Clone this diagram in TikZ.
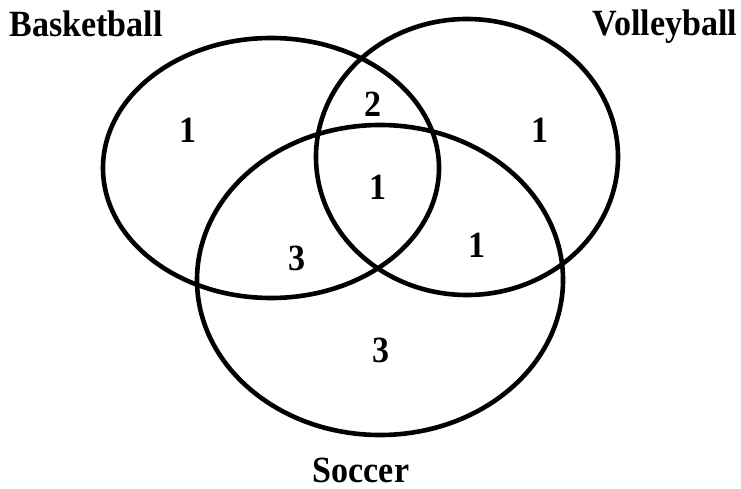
\documentclass[tikz,border=0pt]{standalone}
\usepackage{fontspec}
\setmainfont{Liberation Serif}
\newfontfamily\vennfont[FakeStretch=0.92]{Liberation Serif}
\tikzset{
  setline/.style={draw=black, line width=4.6pt},
  setlabel/.style={font=\vennfont\fontsize{37}{42}\selectfont\bfseries},
  count/.style={font=\vennfont\fontsize{37}{42}\selectfont\bfseries}
}
\begin{document}
\begin{tikzpicture}[x=1pt, y=1pt]
\useasboundingbox (0,0) rectangle (741,-489);

% three sets
\draw [setline] (271,-168) ellipse [x radius=168, y radius=130];
\draw [setline] (467,-157) ellipse [x radius=151, y radius=138];
\draw [setline] (380,-280) ellipse [x radius=183, y radius=155];

% set names
\node (basket) [setlabel] at (86,-24) {Basketball};
\node (volley) [setlabel] at (665,-27) {Volleyball};
\node (soccer) [setlabel] at (361,-470) {Soccer};

% region counts
\node (bonly) [count] at (188,-130) {1};
\node (bv) [count] at (373,-104) {2};
\node (vonly) [count] at (540,-130) {1};
\node (bvs) [count] at (378,-187) {1};
\node (bs) [count] at (297,-258) {3};
\node (vs) [count] at (477,-245) {1};
\node (sonly) [count] at (381,-350) {3};

\end{tikzpicture}
\end{document}
